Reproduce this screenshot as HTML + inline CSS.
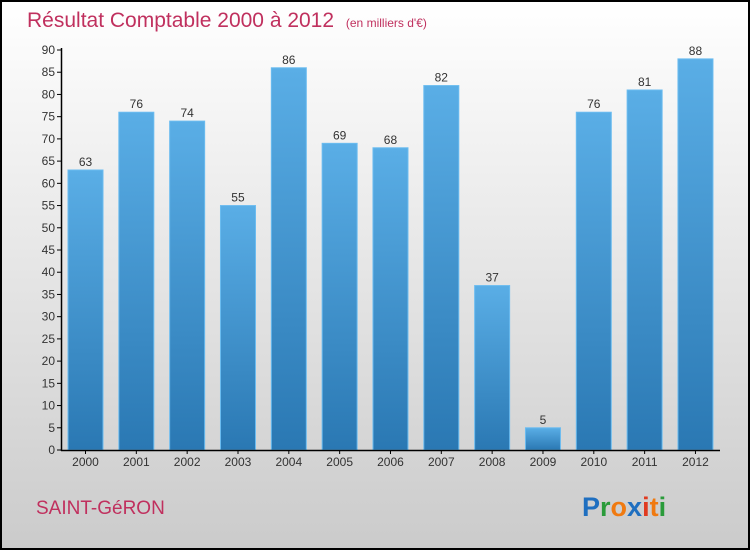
<!DOCTYPE html>
<html><head><meta charset="utf-8"><style>
body{margin:0;width:750px;height:550px;overflow:hidden;font-family:"Liberation Sans",sans-serif}
</style></head><body>
<svg width="750" height="550" xmlns="http://www.w3.org/2000/svg">
<defs>
<linearGradient id="bg" x1="0" y1="0" x2="0" y2="1"><stop offset="0" stop-color="#ffffff"/><stop offset="1" stop-color="#cbcbcb"/></linearGradient>
<linearGradient id="bar" x1="0" y1="0" x2="0" y2="1"><stop offset="0" stop-color="#5aaee6"/><stop offset="1" stop-color="#2a78b3"/></linearGradient>
</defs>
<rect x="1" y="1" width="748" height="548" fill="url(#bg)" stroke="#000" stroke-width="2"/>
<text x="27" y="27" font-size="21" fill="#c0305e">Résultat Comptable 2000 à 2012 <tspan font-size="12" dx="6">(en milliers d'€)</tspan></text>
<g id="plot"></g>
<text x="36" y="514" font-size="19" fill="#c0305e">SAINT-GéRON</text>
<text x="582" y="516" font-size="27" font-weight="bold"><tspan fill="#1f6fc0">P</tspan><tspan fill="#2a9b3a">r</tspan><tspan fill="#f07a10">o</tspan><tspan fill="#1f6fc0">x</tspan><tspan fill="#e03a20">i</tspan><tspan fill="#f07a10">t</tspan><tspan fill="#2a9b3a">i</tspan></text>
</svg>
<script>
const years=["2000","2001","2002","2003","2004","2005","2006","2007","2008","2009","2010","2011","2012"];
const values=[63,76,74,55,86,69,68,82,37,5,76,81,88];
const yTicks=[0,5,10,15,20,25,30,35,40,45,50,55,60,65,70,75,80,85,90];
const NS="http://www.w3.org/2000/svg";
const g=document.getElementById('plot');
const y0=450,yTop=50,yMax=90,x0=85.5,step=50.83,bw=35;
const yS=v=>y0-(v/yMax)*(y0-yTop);
const xS=i=>x0+i*step;
function mk(t,a){const e=document.createElementNS(NS,t);for(const k in a)e.setAttribute(k,a[k]);g.appendChild(e);return e;}
yTicks.forEach(v=>{
 const l=mk('line',{x1:57,x2:62,y1:yS(v),y2:yS(v),stroke:'#000'});
 
 
 const t=mk('text',{x:55,y:yS(v)+4,'text-anchor':'end','font-size':12,fill:'#333'});
 t.textContent=v;
 
 
});
values.forEach((v,i)=>{
 const r=mk('rect',{x:xS(i)-bw/2,y:yS(v),width:bw,height:y0-yS(v),fill:'url(#bar)',stroke:'#6bbcf0','stroke-width':1});
 
 
 const t=mk('text',{x:xS(i),y:yS(v)-4,'text-anchor':'middle','font-size':12,fill:'#333'});
 t.textContent=v;
 
 
 const xl=mk('text',{x:xS(i),y:466,'text-anchor':'middle','font-size':12,fill:'#333'});
 xl.textContent=years[i];
 
 
 const xt=mk('line',{x1:xS(i),x2:xS(i),y1:450,y2:454,stroke:'#000'});
 
 
});
const ya=mk('line',{x1:61.5,x2:61.5,y1:48,y2:451,stroke:'#000','stroke-width':1.5});


const xa=mk('line',{x1:61,x2:720,y1:450.5,y2:450.5,stroke:'#000','stroke-width':1.5});


</script>
</body></html>
